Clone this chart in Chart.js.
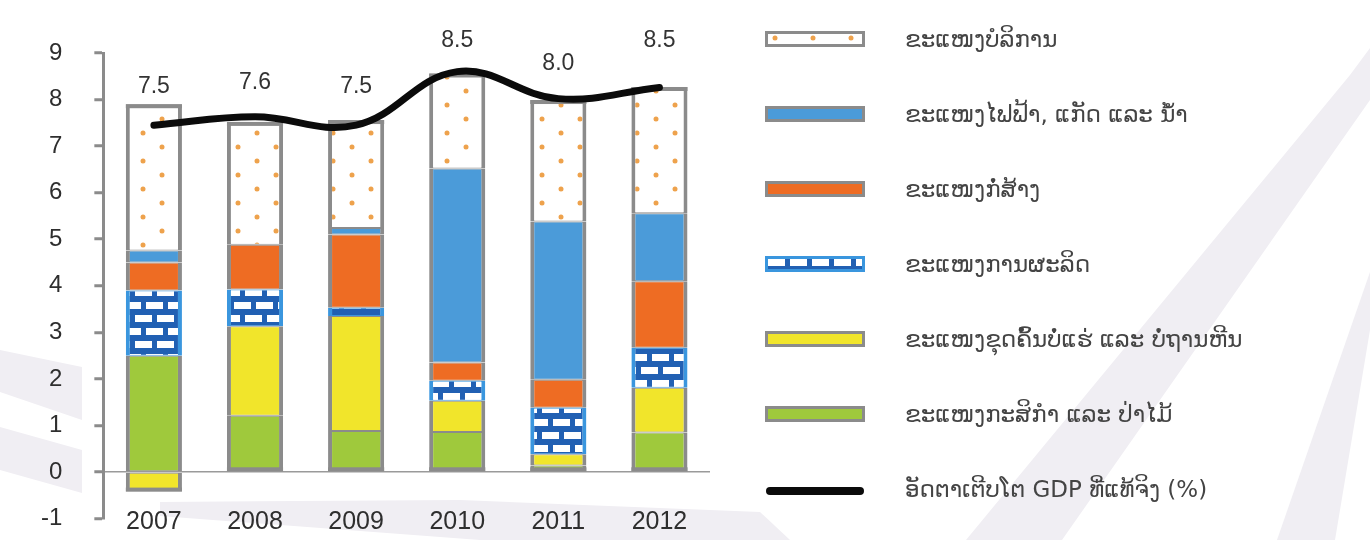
<!DOCTYPE html>
<html lang="lo">
<head>
<meta charset="utf-8">
<title>ອັດຕາເຕີບໂຕ GDP</title>
<script src="https://cdn.jsdelivr.net/npm/chart.js"></script>
<style>
  html, body { margin: 0; padding: 0; }
  body { width: 1370px; height: 540px; overflow: hidden; background: #fff; position: relative;
         font-family: "DejaVu Sans", "Noto Sans", sans-serif; }
  #bg { position: absolute; left: 0; top: 0; }
  #wrap { position: absolute; left: 0; top: 0; width: 740px; height: 565px; }
  #legend { position: absolute; left: 765px; top: 1px; }
  .item { height: 75px; display: flex; align-items: center; }
  .item canvas { display: block; }
  .item span { margin-left: 40px; font-size: 23px; color: #444; white-space: nowrap; }
</style>
</head>
<body>
<svg id="bg" width="1370" height="540">
  <g fill="#f0eef3">
    <polygon points="0,350 82,367 82,420 0,392"/>
    <polygon points="0,427 82,450 82,493 0,470"/>
    <polygon points="160,502 460,500 760,512 790,540 480,540 160,516"/>
    <polygon points="1350,75 1370,48 1370,100 1062,540 966,540"/>
    <polygon points="1370,272 1370,330 1335,540 1277,540"/>
  </g>
</svg>
<div id="wrap"><canvas id="chart"></canvas></div>
<div id="legend"></div>

<script>
  const years = ['2007', '2008', '2009', '2010', '2011', '2012'];

  // ຂະແໜງ (sector contributions, % points), bottom to top
  const agriculture   = [2.50, 1.21, 0.88, 0.86, 0.14, 0.85];
  const mining        = [-0.42, 1.92, 2.47, 0.67, 0.24, 0.96];
  const manufacturing = [1.40, 0.79, 0.18, 0.43, 1.00, 0.86];
  const construction  = [0.60, 0.96, 1.57, 0.39, 0.60, 1.43];
  const electricity   = [0.26, 0.00, 0.14, 4.17, 3.40, 1.46];
  const services      = [3.14, 2.64, 2.32, 2.04, 2.61, 2.71];

  // real GDP growth: curve as drawn, and printed values
  const gdpLine   = [7.45, 7.63, 7.45, 8.60, 8.02, 8.26];
  const gdpGrowth = [7.5, 7.6, 7.5, 8.5, 8.0, 8.5];

  const yTicks = [-1, 0, 1, 2, 3, 4, 5, 6, 7, 8, 9];

  const frameGray = '#8b8b8b';

  function dotPattern() {
    const c = document.createElement('canvas');
    c.width = 38; c.height = 28;
    const g = c.getContext('2d');
    g.fillStyle = '#ffffff';
    g.fillRect(0, 0, 38, 28);
    g.fillStyle = '#eea24c';
    [[10, 7], [29, 21]].forEach(([x, y]) => {
      g.beginPath(); g.arc(x, y, 2.5, 0, Math.PI * 2); g.fill();
    });
    return g.createPattern(c, 'repeat');
  }

  function brickPattern() {
    const c = document.createElement('canvas');
    c.width = 44; c.height = 26;
    const g = c.getContext('2d');
    g.fillStyle = '#2160b3';
    g.fillRect(0, 0, 44, 26);
    g.fillStyle = '#ffffff';
    g.fillRect(3, 3, 17, 7);
    g.fillRect(25, 3, 17, 7);
    g.fillRect(14, 16, 17, 7);
    g.fillRect(36, 16, 8, 7);
    g.fillRect(0, 16, 9, 7);
    return g.createPattern(c, 'repeat');
  }

  const dots = dotPattern();
  const bricks = brickPattern();

  function sector(label, data, fill, edge) {
    return {
      type: 'bar',
      label: label,
      data: data,
      backgroundColor: fill,
      borderColor: edge || frameGray,
      borderWidth: { left: 4, right: 4, top: 1, bottom: 1 },
      borderSkipped: false,
      stack: 'sectors',
      order: 1,
      barPercentage: 0.555,
      categoryPercentage: 1.0
    };
  }

  // thick caps on top and bottom of each column, drawn before the GDP curve
  const columnFrame = {
    id: 'columnFrame',
    beforeDatasetDraw(chart, args) {
      if (args.meta.type !== 'line') return;
      const ctx = chart.ctx;
      const metas = chart.getSortedVisibleDatasetMetas().filter(m => m.type === 'bar');
      years.forEach((_, i) => {
        let top = Infinity, bottom = -Infinity, x = 0, w = 0;
        metas.forEach(m => {
          const el = m.data[i];
          if (!el || Math.abs(el.y - el.base) < 0.5) return;
          top = Math.min(top, el.y, el.base);
          bottom = Math.max(bottom, el.y, el.base);
          x = el.x; w = el.width;
        });
        ctx.save();
        ctx.fillStyle = frameGray;
        ctx.fillRect(x - w / 2, top, w, 4);
        ctx.fillRect(x - w / 2, bottom - 4, w, 4);
        ctx.restore();
      });
    }
  };

  const valueLabels = {
    id: 'valueLabels',
    afterDatasetsDraw(chart) {
      const ctx = chart.ctx;
      const xs = chart.scales.x, ys = chart.scales.y;
      ctx.save();
      ctx.font = '23px "Liberation Sans", Arial, sans-serif';
      ctx.fillStyle = '#333';
      ctx.textAlign = 'center';
      ctx.textBaseline = 'middle';
      gdpGrowth.forEach((v, i) => {
        ctx.fillText(v.toFixed(1), xs.getPixelForValue(i), ys.getPixelForValue(v) - 36);
      });
      ctx.restore();
    }
  };

  const chart = new Chart(document.getElementById('chart'), {
    data: {
      labels: years,
      datasets: [
        sector('ຂະແໜງກະສິກຳ ແລະ ປ່າໄມ້', agriculture, '#9fc93c'),
        sector('ຂະແໜງຂຸດຄົ້ນບໍ່ແຮ່ ແລະ ບໍ່ຖານຫີນ', mining, '#f1e52b'),
        sector('ຂະແໜງການຜະລິດ', manufacturing, bricks, '#3a96de'),
        sector('ຂະແໜງກໍ່ສ້າງ', construction, '#ee6c23'),
        sector('ຂະແໜງໄຟຟ້າ, ແກັດ ແລະ ນ້ຳ', electricity, '#4b9bd9'),
        sector('ຂະແໜງບໍລິການ', services, dots),
        {
          type: 'line',
          label: 'ອັດຕາເຕີບໂຕ GDP ທີ່ແທ້ຈິງ (%)',
          data: gdpLine,
          borderColor: '#0b0b0b',
          backgroundColor: '#0b0b0b',
          borderWidth: 7,
          borderCapStyle: 'round',
          tension: 0.4,
          pointRadius: 0,
          stack: 'gdp',
          order: 0
        }
      ]
    },
    options: {
      responsive: true,
      maintainAspectRatio: false,
      animation: false,
      layout: { padding: { left: 9, right: 30, top: 53, bottom: 0 } },
      plugins: { legend: { display: false }, tooltip: { enabled: false } },
      scales: {
        x: {
          stacked: true,
          grid: { display: false, drawTicks: false },
          border: { display: false },
          // year labels sit level with the -1 tick, as in the source
          ticks: { mirror: true, padding: -16.5, color: '#2e2e2e',
                   font: { family: '"Liberation Sans", Arial', size: 25, lineHeight: 1.0 } }
        },
        y: {
          stacked: true,
          min: -1,
          max: 9,
          afterBuildTicks: axis => { axis.ticks = yTicks.map(v => ({ value: v })); },
          grid: {
            color: ctx => ctx.tick && ctx.tick.value === 0 ? '#9a9a9a' : 'rgba(0,0,0,0)',
            lineWidth: 1.5,
            tickColor: frameGray,
            tickWidth: 3,
            tickLength: 9
          },
          border: { display: true, color: frameGray, width: 3 },
          ticks: { padding: 32, color: '#2e2e2e', font: { family: '"Liberation Sans", Arial', size: 24 } }
        }
      }
    },
    plugins: [columnFrame, valueLabels]
  });

  // legend on the right, top to bottom: services ... agriculture, then the line
  const legendDiv = document.getElementById('legend');
  const order = [5, 4, 3, 2, 1, 0, 6];
  order.forEach(idx => {
    const ds = chart.data.datasets[idx];
    const row = document.createElement('div');
    row.className = 'item';
    const sw = document.createElement('canvas');
    sw.width = 100; sw.height = 16;
    const g = sw.getContext('2d');
    if (ds.type === 'line') {
      g.strokeStyle = '#0b0b0b';
      g.lineWidth = 8;
      g.lineCap = 'round';
      g.beginPath(); g.moveTo(5, 10); g.lineTo(95, 10); g.stroke();
    } else {
      g.fillStyle = ds.backgroundColor;
      g.fillRect(0, 0, 100, 16);
      g.strokeStyle = ds.borderColor;
      g.lineWidth = 3;
      g.strokeRect(1.5, 1.5, 97, 13);
    }
    row.appendChild(sw);
    const t = document.createElement('span');
    t.textContent = ds.label;
    row.appendChild(t);
    legendDiv.appendChild(row);
  });
</script>
</body>
</html>
